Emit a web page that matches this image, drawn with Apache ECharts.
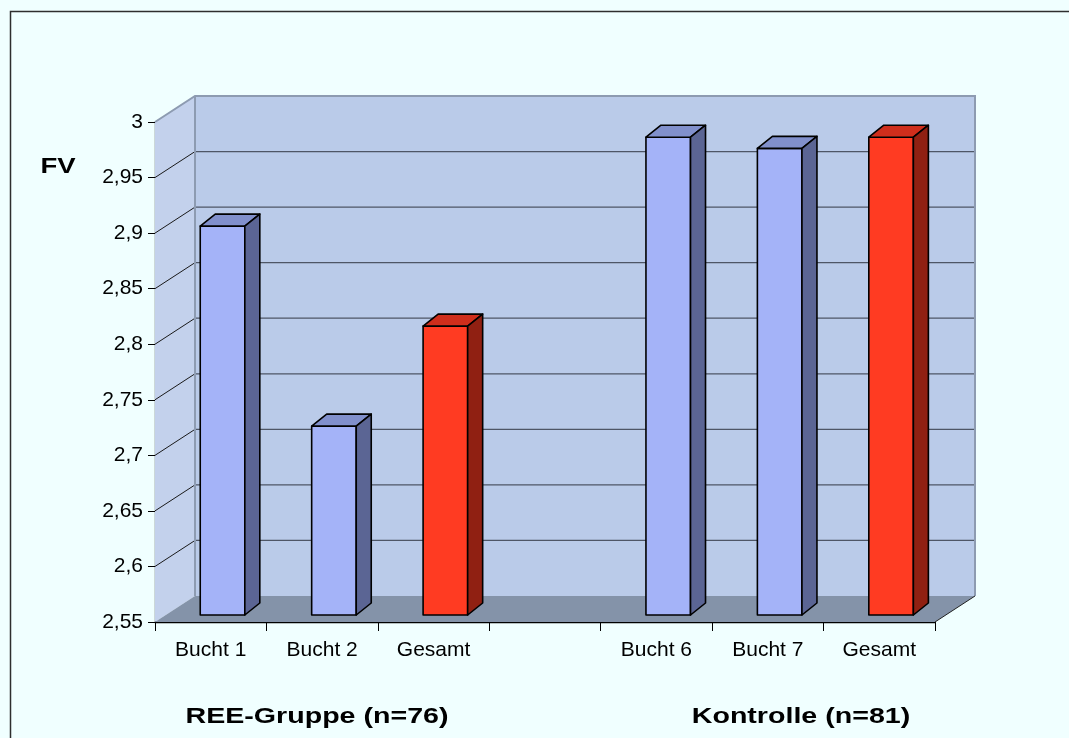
<!DOCTYPE html>
<html>
<head>
<meta charset="utf-8">
<script src="https://cdn.jsdelivr.net/npm/echarts@6/dist/echarts.min.js"></script>
<style>
html,body{margin:0;padding:0;background:#F0FFFF;}
#chart{width:1069px;height:738px;}
</style>
</head>
<body>
<div id="chart"></div>
<script>
// ---- data ----
const categories = ['Bucht 1', 'Bucht 2', 'Gesamt', '', 'Bucht 6', 'Bucht 7', 'Gesamt'];
const fvValues   = [2.90, 2.72, 2.81, null, 2.98, 2.97, 2.98];
const barKinds   = [0, 0, 1, null, 0, 0, 1]; // 0 = Bucht, 1 = Gesamt
const yTicks     = [2.55, 2.6, 2.65, 2.7, 2.75, 2.8, 2.85, 2.9, 2.95, 3];
const groupLabels = ['REE-Gruppe (n=76)', 'Kontrolle (n=81)'];
const yTitle = 'FV';

const yMin = 2.55, yMax = 3, yStep = 0.05;

const palette = [
  { front: '#A4B3F8', top: '#8190CC', side: '#5B6594' },
  { front: '#FF3B22', top: '#CF2E1C', side: '#902012' }
];

const DX = 40, DY = 26; // wall depth

const barData = [];
fvValues.forEach((v, i) => { if (v != null) barData.push([i, v, barKinds[i]]); });

function renderWalls(params, api) {
  const cs = params.coordSys;
  const x0 = cs.x, x1 = cs.x + cs.width;
  const yTop = api.coord([0, yMax])[1];
  const yBot = api.coord([0, yMin])[1];
  const children = [];
  children.push({ type: 'rect', shape: { x: x0 + DX, y: yTop - DY, width: x1 - x0, height: yBot - yTop },
    style: { fill: '#BACBE9', stroke: null } });
  children.push({ type: 'polygon', shape: { points: [[x0, yTop], [x0 + DX, yTop - DY], [x0 + DX, yBot - DY], [x0, yBot]] },
    style: { fill: '#C3D1EC', stroke: null } });
  children.push({ type: 'polygon', shape: { points: [[x0, yBot], [x1, yBot], [x1 + DX, yBot - DY], [x0 + DX, yBot - DY]] },
    style: { fill: '#8493A9', stroke: null } });
  yTicks.forEach(t => {
    const y = api.coord([0, t])[1];
    if (t > yMin + 1e-6 && t < yMax - 1e-6) {
      children.push({ type: 'line', shape: { x1: x0 + DX, y1: y - DY, x2: x1 + DX, y2: y - DY },
        style: { stroke: '#4E5666', lineWidth: 1.3 } });
      children.push({ type: 'line', shape: { x1: x0, y1: y, x2: x0 + DX, y2: y - DY },
        style: { stroke: '#1A1A1A', lineWidth: 1 } });
    }
  });
  children.push({ type: 'polyline', shape: { points: [[x0, yTop], [x0 + DX, yTop - DY], [x1 + DX, yTop - DY], [x1 + DX, yBot - DY]] },
    style: { stroke: '#8D9BB1', lineWidth: 2, fill: null } });
  children.push({ type: 'line', shape: { x1: x0 + DX, y1: yTop - DY, x2: x0 + DX, y2: yBot - DY },
    style: { stroke: '#8D9BB1', lineWidth: 2 } });
  children.push({ type: 'line', shape: { x1: x1, y1: yBot, x2: x1 + DX, y2: yBot - DY },
    style: { stroke: '#222', lineWidth: 1 } });
  return { type: 'group', children: children };
}

function renderBar(params, api) {
  const i = api.value(0), v = api.value(1), kind = api.value(2);
  const top = api.coord([i, v]);
  const base = api.coord([i, yMin]);
  const band = api.size([1, 0])[0];
  const x0 = top[0] - band * 0.094;
  const w = band * 0.40;
  const lift = 7, dx = 15, dy = 12;
  const yt = top[1] - lift, yb = base[1] - lift;
  const c = palette[kind];
  const st = { stroke: '#000', lineWidth: 1.6, lineJoin: 'round' };
  return { type: 'group', children: [
    { type: 'polygon', shape: { points: [[x0, yt], [x0 + w, yt], [x0 + w, yb], [x0, yb]] },
      style: Object.assign({ fill: c.front }, st) },
    { type: 'polygon', shape: { points: [[x0, yt], [x0 + dx, yt - dy], [x0 + w + dx, yt - dy], [x0 + w, yt]] },
      style: Object.assign({ fill: c.top }, st) },
    { type: 'polygon', shape: { points: [[x0 + w, yt], [x0 + w + dx, yt - dy], [x0 + w + dx, yb - dy], [x0 + w, yb]] },
      style: Object.assign({ fill: c.side }, st) }
  ] };
}

const chart = echarts.init(document.getElementById('chart'), null, { renderer: 'canvas' });
const FONT = '"Liberation Sans", Arial, sans-serif';

chart.setOption({
  backgroundColor: '#F0FFFF',
  animation: false,
  grid: { left: 155, right: 134, top: 122, bottom: 116, containLabel: false },
  xAxis: {
    type: 'category',
    data: categories,
    boundaryGap: true,
    axisLine: { show: true, lineStyle: { color: '#000', width: 1.3 } },
    axisTick: { show: true, length: 9, lineStyle: { color: '#000', width: 1 }, interval: 0 },
    axisLabel: { color: '#000', fontFamily: FONT, fontSize: 21, margin: 18, interval: 0 },
    splitLine: { show: false }
  },
  yAxis: {
    type: 'value',
    min: yMin, max: yMax, interval: yStep,
    axisLine: { show: true, lineStyle: { color: '#000', width: 1.3 } },
    axisTick: { show: true, length: 7, lineStyle: { color: '#000', width: 1 } },
    axisLabel: { color: '#000', fontFamily: FONT, fontSize: 21, margin: 12,
      formatter: v => String(+(+v).toFixed(2)).replace('.', ',') },
    splitLine: { show: false }
  },
  series: [
    { type: 'custom', name: 'walls', renderItem: renderWalls, data: [[0, yMin]], z: 1, silent: true, clip: false },
    { type: 'custom', name: 'FV', renderItem: renderBar, data: barData, z: 3, clip: false,
      encode: { x: 0, y: 1 } }
  ],
  graphic: [
    { type: 'rect', x: 10.5, y: 11.5, shape: { x: 0, y: 0, width: 1200, height: 1000 },
      style: { fill: null, stroke: '#2E2E2E', lineWidth: 1.5 }, z: 100, silent: true },
    { type: 'text', x: 58, y: 167, scaleX: 1.25,
      style: { text: yTitle, font: 'bold 22px ' + FONT, fill: '#000', textAlign: 'center', textVerticalAlign: 'middle' } },
    { type: 'text', x: 317, y: 717, scaleX: 1.3,
      style: { text: groupLabels[0], font: 'bold 22px ' + FONT, fill: '#000', textAlign: 'center', textVerticalAlign: 'middle' } },
    { type: 'text', x: 801, y: 717, scaleX: 1.3,
      style: { text: groupLabels[1], font: 'bold 22px ' + FONT, fill: '#000', textAlign: 'center', textVerticalAlign: 'middle' } }
  ]
});
</script>
</body>
</html>
